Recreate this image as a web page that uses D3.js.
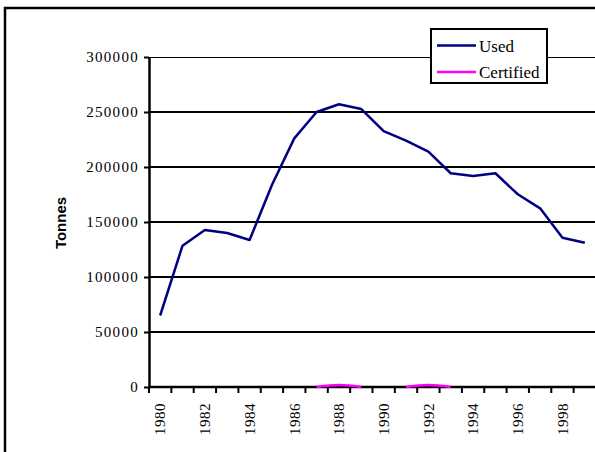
<!DOCTYPE html>
<html>
<head>
<meta charset="utf-8">
<script src="https://cdn.jsdelivr.net/npm/d3@7"></script>
<style>
  body { margin: 0; background: #fff; }
  svg { display: block; }
</style>
</head>
<body>
<script>
// years shown on the x axis, one band each
var years = d3.range(1980, 2000);
// tonnes used per year
var used = [65000, 128500, 142700, 140000, 133600, 183600, 226000, 250000, 257000, 252700,
            232700, 224000, 213900, 194300, 191800, 194300, 175200, 162400, 135700, 131200];
// certified tonnes (only a few years reported)
var certified = [null, null, null, null, null, null, null, 0, 1800, 0,
                 null, 0, 1800, 0, null, null, null, null, null, null];
var yTicks = [0, 50000, 100000, 150000, 200000, 250000, 300000];
var seriesNames = ["Used", "Certified"];
var seriesColors = ["#000080", "#ff00ff"];

var svg = d3.select("body")
  .append("svg")
    .attr("width", 595)
    .attr("height", 452);

// outer chart frame (runs off the right and bottom of the picture)
svg.append("rect")
  .attr("x", 5).attr("y", 8)
  .attr("width", 620).attr("height", 470)
  .attr("fill", "#fff")
  .attr("stroke", "#000").attr("stroke-width", 2.5);

var x = d3.scaleBand().domain(years).range([149, 596]).padding(0);
var y = d3.scaleLinear().domain([0, 300000]).range([387, 57]);

// gridlines
svg.append("g")
  .selectAll("line")
  .data(yTicks.filter(function(d) { return d > 0; }))
  .join("line")
    .attr("x1", 149).attr("x2", 600)
    .attr("y1", function(d) { return d == 300000 ? y(d) + 0.5 : y(d); })
    .attr("y2", function(d) { return d == 300000 ? y(d) + 0.5 : y(d); })
    .attr("stroke", "#000")
    .attr("stroke-width", function(d) { return d == 300000 ? 1 : 2; });

// y axis
var yAxis = svg.append("g")
  .attr("transform", "translate(149,0)")
  .call(d3.axisLeft(y).tickValues(yTicks).tickSize(5).tickSizeOuter(0)
    .tickFormat(function(d) { return d; }));
yAxis.select(".domain").attr("stroke", "#000").attr("stroke-width", 2.5);
yAxis.selectAll(".tick line").attr("stroke", "#000").attr("stroke-width", 2);
yAxis.selectAll(".tick text")
  .attr("x", -10)
  .attr("font-family", "'Liberation Serif', 'Times New Roman', serif")
  .attr("font-size", 15)
  .attr("letter-spacing", 1.3)
  .attr("fill", "#000");

// x axis line
svg.append("line")
  .attr("x1", 149).attr("x2", 600)
  .attr("y1", y(0)).attr("y2", y(0))
  .attr("stroke", "#000").attr("stroke-width", 2.5);

// tick marks at band edges
var edges = years.map(function(d) { return x(d); }).concat([x(years[years.length - 1]) + x.bandwidth()]);
svg.append("g")
  .selectAll("line")
  .data(edges)
  .join("line")
    .attr("x1", function(d) { return d; }).attr("x2", function(d) { return d; })
    .attr("y1", y(0)).attr("y2", y(0) + 6)
    .attr("stroke", "#000").attr("stroke-width", 2);

// year labels, every second year, rotated
svg.append("g")
  .selectAll("text")
  .data(years.filter(function(d) { return d % 2 == 0; }))
  .join("text")
    .attr("transform", function(d) {
      return "translate(" + (x(d) + x.bandwidth() / 2) + "," + 403 + ") rotate(-90)";
    })
    .attr("text-anchor", "end")
    .attr("dy", "0.35em")
    .attr("font-family", "'Liberation Serif', 'Times New Roman', serif")
    .attr("font-size", 15)
    .attr("letter-spacing", 0.5)
    .text(function(d) { return d; });

// y axis title
svg.append("text")
  .attr("transform", "translate(66,223) rotate(-90)")
  .attr("text-anchor", "middle")
  .attr("font-family", "'Liberation Sans', Arial, sans-serif")
  .attr("font-weight", "bold")
  .attr("font-size", 15)
  .text("Tonnes");

// series lines
var usedLine = d3.line()
  .x(function(d, i) { return x(years[i]) + x.bandwidth() / 2; })
  .y(function(d) { return y(d); });

var certLine = d3.line()
  .defined(function(d) { return d != null; })
  .x(function(d, i) { return x(years[i]) + x.bandwidth() / 2; })
  .y(function(d) { return y(d); })
  .curve(d3.curveCatmullRom.alpha(0.5));

svg.append("path")
  .datum(certified)
  .attr("d", certLine)
  .attr("fill", "none")
  .attr("stroke", seriesColors[1])
  .attr("stroke-width", 2.5);

svg.append("path")
  .datum(used)
  .attr("d", usedLine)
  .attr("fill", "none")
  .attr("stroke", seriesColors[0])
  .attr("stroke-width", 2.5)
  .attr("stroke-linejoin", "round");

// legend
var legend = svg.append("g").attr("transform", "translate(431,29)");
legend.append("rect")
  .attr("width", 116).attr("height", 54)
  .attr("fill", "#fff")
  .attr("stroke", "#000").attr("stroke-width", 2);
var items = legend.selectAll("g.item")
  .data(seriesNames)
  .join("g")
    .attr("class", "item")
    .attr("transform", function(d, i) { return "translate(0," + (16.5 + i * 26.5) + ")"; });
items.append("line")
  .attr("x1", 6).attr("x2", 45)
  .attr("stroke", function(d, i) { return seriesColors[i]; })
  .attr("stroke-width", 2.5);
items.append("text")
  .attr("x", 48).attr("y", 6)
  .attr("font-family", "'Liberation Serif', 'Times New Roman', serif")
  .attr("font-size", 17)
  .text(function(d) { return d; });
</script>
</body>
</html>
